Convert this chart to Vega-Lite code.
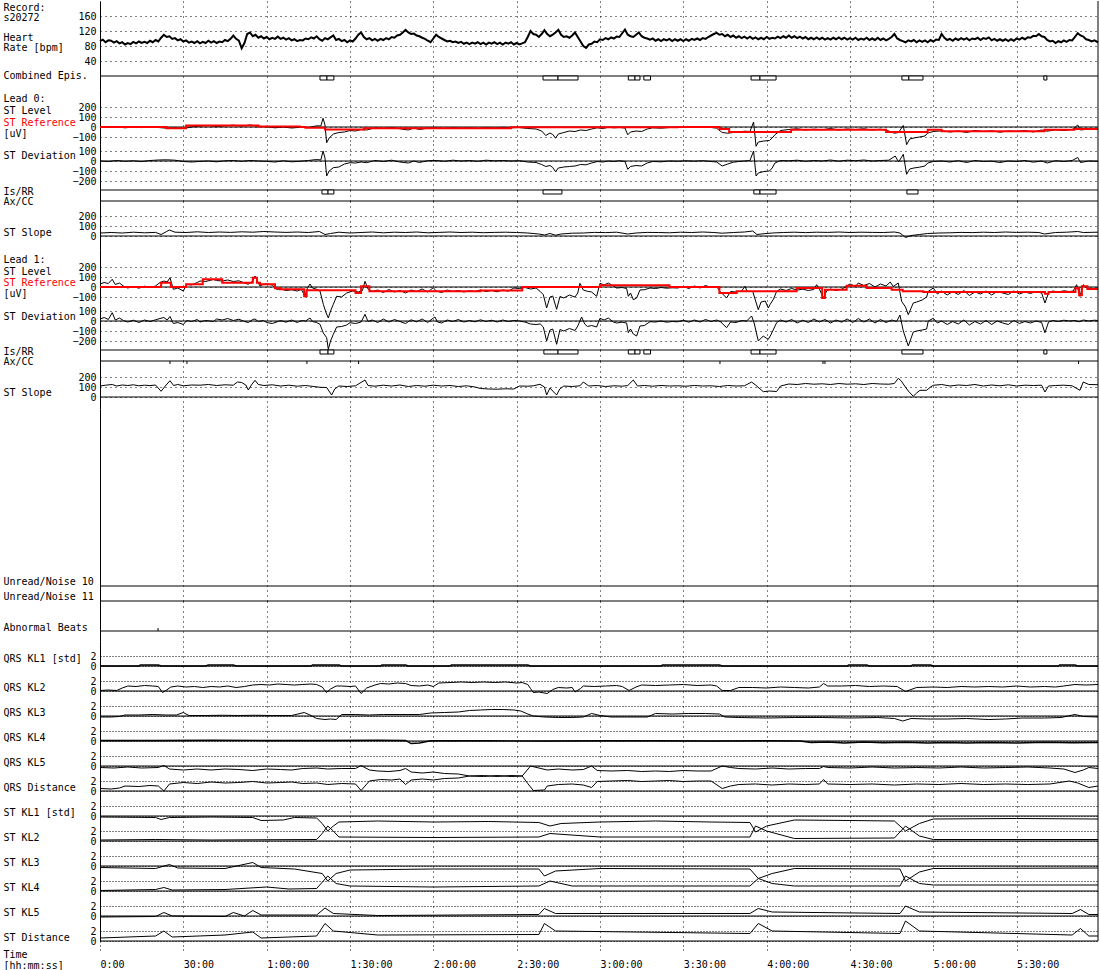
{
"$schema": "https://vega.github.io/schema/vega-lite/v6.json",
"padding": {"left": 3, "top": 0, "right": 0, "bottom": 0},
"background": "white",
"bounds": "flush",
"spacing": 0,
"config": {
  "font": "DejaVu Sans Mono",
  "view": {"stroke": null},
  "axis": {"labelFont": "DejaVu Sans Mono", "labelFontSize": 10, "labelColor": "black", "titleFont": "DejaVu Sans Mono", "titleFontSize": 10, "titleFontWeight": "normal", "titleColor": "black", "gridColor": "black", "gridOpacity": 1, "gridWidth": 1, "domainColor": "black", "tickColor": "black", "labelOverlap": false, "titleLimit": 300, "labelLimit": 200},
  "axisX": {"grid": true, "gridDash": [1, 4], "labels": false, "ticks": false, "domain": false},
  "axisY": {"ticks": false, "domain": true, "labelPadding": 4, "gridDash": [1, 4], "grid": false, "titleAngle": 0, "titleAlign": "left", "titleBaseline": "top", "titleX": -97, "titleLineHeight": 11, "labelBaseline": "middle"}
},
"datasets": {
"hr": [{"t":0,"v":93},{"t":1,"v":97},{"t":2,"v":90},{"t":3,"v":95},{"t":4,"v":94},{"t":5,"v":89},{"t":6,"v":93},{"t":7,"v":87},{"t":8,"v":90},{"t":9,"v":84},{"t":10,"v":88},{"t":11,"v":85},{"t":12,"v":91},{"t":13,"v":87},{"t":14,"v":92},{"t":15,"v":88},{"t":16,"v":91},{"t":17,"v":88},{"t":18,"v":94},{"t":19,"v":90},{"t":20,"v":96},{"t":21,"v":92},{"t":22,"v":102},{"t":23,"v":110},{"t":24,"v":104},{"t":25,"v":106},{"t":26,"v":99},{"t":27,"v":101},{"t":28,"v":95},{"t":29,"v":98},{"t":30,"v":92},{"t":31,"v":95},{"t":32,"v":89},{"t":33,"v":92},{"t":34,"v":88},{"t":35,"v":93},{"t":36,"v":87},{"t":37,"v":91},{"t":38,"v":88},{"t":39,"v":94},{"t":40,"v":89},{"t":41,"v":93},{"t":42,"v":88},{"t":43,"v":92},{"t":44,"v":90},{"t":45,"v":96},{"t":46,"v":93},{"t":47,"v":99},{"t":48,"v":108},{"t":49,"v":99},{"t":50,"v":94},{"t":51,"v":74},{"t":52,"v":88},{"t":53,"v":112},{"t":54,"v":116},{"t":55,"v":106},{"t":56,"v":110},{"t":57,"v":102},{"t":58,"v":106},{"t":59,"v":100},{"t":60,"v":104},{"t":61,"v":98},{"t":62,"v":102},{"t":63,"v":99},{"t":64,"v":105},{"t":65,"v":99},{"t":66,"v":102},{"t":67,"v":97},{"t":68,"v":101},{"t":69,"v":95},{"t":70,"v":98},{"t":71,"v":93},{"t":72,"v":96},{"t":73,"v":95},{"t":74,"v":100},{"t":75,"v":98},{"t":76,"v":103},{"t":77,"v":100},{"t":78,"v":106},{"t":79,"v":98},{"t":80,"v":94},{"t":81,"v":101},{"t":82,"v":98},{"t":83,"v":103},{"t":84,"v":108},{"t":85,"v":96},{"t":86,"v":99},{"t":87,"v":93},{"t":88,"v":96},{"t":89,"v":90},{"t":90,"v":95},{"t":91,"v":92},{"t":92,"v":100},{"t":93,"v":110},{"t":94,"v":116},{"t":95,"v":104},{"t":96,"v":98},{"t":97,"v":101},{"t":98,"v":95},{"t":99,"v":99},{"t":100,"v":94},{"t":101,"v":99},{"t":102,"v":96},{"t":103,"v":101},{"t":104,"v":98},{"t":105,"v":104},{"t":106,"v":102},{"t":107,"v":108},{"t":108,"v":110},{"t":109,"v":116},{"t":110,"v":123},{"t":111,"v":116},{"t":112,"v":112},{"t":113,"v":113},{"t":114,"v":108},{"t":115,"v":106},{"t":116,"v":102},{"t":117,"v":99},{"t":118,"v":94},{"t":119,"v":90},{"t":120,"v":100},{"t":121,"v":110},{"t":122,"v":104},{"t":123,"v":100},{"t":124,"v":96},{"t":125,"v":92},{"t":126,"v":94},{"t":127,"v":90},{"t":128,"v":92},{"t":129,"v":88},{"t":130,"v":91},{"t":131,"v":86},{"t":132,"v":89},{"t":133,"v":85},{"t":134,"v":89},{"t":135,"v":86},{"t":136,"v":90},{"t":137,"v":85},{"t":138,"v":89},{"t":139,"v":84},{"t":140,"v":89},{"t":141,"v":86},{"t":142,"v":90},{"t":143,"v":85},{"t":144,"v":89},{"t":145,"v":84},{"t":146,"v":89},{"t":147,"v":86},{"t":148,"v":90},{"t":149,"v":84},{"t":150,"v":88},{"t":151,"v":84},{"t":152,"v":87},{"t":153,"v":90},{"t":154,"v":104},{"t":155,"v":120},{"t":156,"v":112},{"t":157,"v":110},{"t":158,"v":104},{"t":159,"v":112},{"t":160,"v":122},{"t":161,"v":112},{"t":162,"v":106},{"t":163,"v":110},{"t":164,"v":116},{"t":165,"v":123},{"t":166,"v":110},{"t":167,"v":104},{"t":168,"v":106},{"t":169,"v":102},{"t":170,"v":108},{"t":171,"v":116},{"t":172,"v":104},{"t":173,"v":92},{"t":174,"v":80},{"t":175,"v":75},{"t":176,"v":84},{"t":177,"v":86},{"t":178,"v":92},{"t":179,"v":90},{"t":180,"v":98},{"t":181,"v":96},{"t":182,"v":101},{"t":183,"v":98},{"t":184,"v":103},{"t":185,"v":100},{"t":186,"v":105},{"t":187,"v":104},{"t":188,"v":114},{"t":189,"v":124},{"t":190,"v":110},{"t":191,"v":106},{"t":192,"v":104},{"t":193,"v":110},{"t":194,"v":116},{"t":195,"v":106},{"t":196,"v":102},{"t":197,"v":100},{"t":198,"v":97},{"t":199,"v":100},{"t":200,"v":94},{"t":201,"v":98},{"t":202,"v":93},{"t":203,"v":98},{"t":204,"v":95},{"t":205,"v":99},{"t":206,"v":93},{"t":207,"v":98},{"t":208,"v":94},{"t":209,"v":98},{"t":210,"v":93},{"t":211,"v":98},{"t":212,"v":94},{"t":213,"v":99},{"t":214,"v":96},{"t":215,"v":100},{"t":216,"v":96},{"t":217,"v":101},{"t":218,"v":99},{"t":219,"v":104},{"t":220,"v":108},{"t":221,"v":112},{"t":222,"v":115},{"t":223,"v":110},{"t":224,"v":112},{"t":225,"v":106},{"t":226,"v":110},{"t":227,"v":104},{"t":228,"v":108},{"t":229,"v":102},{"t":230,"v":106},{"t":231,"v":101},{"t":232,"v":105},{"t":233,"v":100},{"t":234,"v":105},{"t":235,"v":99},{"t":236,"v":103},{"t":237,"v":98},{"t":238,"v":102},{"t":239,"v":98},{"t":240,"v":104},{"t":241,"v":99},{"t":242,"v":102},{"t":243,"v":100},{"t":244,"v":105},{"t":245,"v":101},{"t":246,"v":106},{"t":247,"v":102},{"t":248,"v":108},{"t":249,"v":102},{"t":250,"v":106},{"t":251,"v":101},{"t":252,"v":105},{"t":253,"v":100},{"t":254,"v":104},{"t":255,"v":98},{"t":256,"v":102},{"t":257,"v":98},{"t":258,"v":103},{"t":259,"v":98},{"t":260,"v":102},{"t":261,"v":97},{"t":262,"v":101},{"t":263,"v":97},{"t":264,"v":102},{"t":265,"v":98},{"t":266,"v":103},{"t":267,"v":98},{"t":268,"v":102},{"t":269,"v":97},{"t":270,"v":101},{"t":271,"v":97},{"t":272,"v":102},{"t":273,"v":96},{"t":274,"v":100},{"t":275,"v":97},{"t":276,"v":102},{"t":277,"v":96},{"t":278,"v":100},{"t":279,"v":96},{"t":280,"v":102},{"t":281,"v":96},{"t":282,"v":100},{"t":283,"v":95},{"t":284,"v":99},{"t":285,"v":104},{"t":286,"v":112},{"t":287,"v":100},{"t":288,"v":96},{"t":289,"v":93},{"t":290,"v":90},{"t":291,"v":95},{"t":292,"v":92},{"t":293,"v":96},{"t":294,"v":90},{"t":295,"v":95},{"t":296,"v":91},{"t":297,"v":95},{"t":298,"v":90},{"t":299,"v":96},{"t":300,"v":92},{"t":301,"v":97},{"t":302,"v":96},{"t":303,"v":112},{"t":304,"v":102},{"t":305,"v":96},{"t":306,"v":99},{"t":307,"v":94},{"t":308,"v":100},{"t":309,"v":96},{"t":310,"v":101},{"t":311,"v":97},{"t":312,"v":101},{"t":313,"v":95},{"t":314,"v":100},{"t":315,"v":98},{"t":316,"v":102},{"t":317,"v":96},{"t":318,"v":101},{"t":319,"v":99},{"t":320,"v":103},{"t":321,"v":95},{"t":322,"v":99},{"t":323,"v":94},{"t":324,"v":98},{"t":325,"v":94},{"t":326,"v":98},{"t":327,"v":93},{"t":328,"v":98},{"t":329,"v":94},{"t":330,"v":100},{"t":331,"v":97},{"t":332,"v":102},{"t":333,"v":98},{"t":334,"v":103},{"t":335,"v":102},{"t":336,"v":107},{"t":337,"v":106},{"t":338,"v":112},{"t":339,"v":106},{"t":340,"v":104},{"t":341,"v":96},{"t":342,"v":92},{"t":343,"v":94},{"t":344,"v":88},{"t":345,"v":93},{"t":346,"v":90},{"t":347,"v":95},{"t":348,"v":91},{"t":349,"v":96},{"t":350,"v":95},{"t":351,"v":104},{"t":352,"v":114},{"t":353,"v":108},{"t":354,"v":105},{"t":355,"v":98},{"t":356,"v":96},{"t":357,"v":92},{"t":358,"v":95},{"t":359.3,"v":90}],
"l0": [{"t":0,"v":5},{"t":3,"v":-5},{"t":6,"v":2},{"t":9,"v":-8},{"t":12,"v":0},{"t":15,"v":-6},{"t":18,"v":3},{"t":21,"v":-5},{"t":24,"v":-12},{"t":27,"v":-8},{"t":30,"v":-14},{"t":33,"v":2},{"t":36,"v":8},{"t":39,"v":15},{"t":42,"v":5},{"t":45,"v":12},{"t":48,"v":18},{"t":51,"v":10},{"t":54,"v":20},{"t":57,"v":8},{"t":60,"v":2},{"t":63,"v":-8},{"t":66,"v":0},{"t":69,"v":-10},{"t":72,"v":-3},{"t":75,"v":-6},{"t":78,"v":12},{"t":79.5,"v":10},{"t":80.3,"v":87},{"t":81,"v":20},{"t":81.6,"v":-157},{"t":82.5,"v":-110},{"t":84,"v":-70},{"t":86,"v":-55},{"t":88,"v":-50},{"t":90,"v":-35},{"t":92,"v":-40},{"t":94,"v":-25},{"t":96,"v":-30},{"t":99,"v":-8},{"t":102,"v":-15},{"t":105,"v":-5},{"t":108,"v":-18},{"t":111,"v":-30},{"t":113,"v":-10},{"t":115,"v":-25},{"t":118,"v":-12},{"t":121,"v":-8},{"t":124,"v":-15},{"t":127,"v":-5},{"t":130,"v":-12},{"t":133,"v":-8},{"t":136,"v":-15},{"t":139,"v":-5},{"t":142,"v":-10},{"t":145,"v":-3},{"t":148,"v":-8},{"t":151,"v":-5},{"t":154,"v":-15},{"t":157,"v":-20},{"t":159,"v":-40},{"t":160.5,"v":-85},{"t":162,"v":-60},{"t":163,"v":-75},{"t":164,"v":-112},{"t":165,"v":-70},{"t":167,"v":-55},{"t":169,"v":-40},{"t":171,"v":-45},{"t":173,"v":-30},{"t":175,"v":-35},{"t":177,"v":-20},{"t":179,"v":-8},{"t":181,"v":-15},{"t":183,"v":-3},{"t":185,"v":-8},{"t":187,"v":-5},{"t":189,"v":-10},{"t":190,"v":-78},{"t":191,"v":-50},{"t":193,"v":-40},{"t":195,"v":-45},{"t":197,"v":-20},{"t":199,"v":-8},{"t":202,"v":-12},{"t":205,"v":-5},{"t":208,"v":-3},{"t":211,"v":2},{"t":214,"v":-2},{"t":217,"v":3},{"t":220,"v":-5},{"t":222,"v":-12},{"t":224,"v":-55},{"t":226,"v":-62},{"t":228,"v":-55},{"t":230,"v":-50},{"t":232,"v":-42},{"t":234,"v":-45},{"t":235.3,"v":50},{"t":236.2,"v":-193},{"t":237,"v":-150},{"t":239,"v":-140},{"t":241,"v":-135},{"t":242,"v":-110},{"t":243,"v":-77},{"t":245,"v":-35},{"t":248,"v":-25},{"t":251,"v":-18},{"t":254,"v":-30},{"t":257,"v":-22},{"t":260,"v":-28},{"t":263,"v":-15},{"t":266,"v":-30},{"t":269,"v":-20},{"t":272,"v":-25},{"t":275,"v":-18},{"t":278,"v":-30},{"t":281,"v":-22},{"t":284,"v":-40},{"t":286,"v":-62},{"t":287.5,"v":-55},{"t":289.2,"v":15},{"t":290.4,"v":-177},{"t":291.5,"v":-120},{"t":293,"v":-110},{"t":295,"v":-100},{"t":297,"v":-90},{"t":298,"v":-60},{"t":300,"v":-45},{"t":303,"v":-38},{"t":306,"v":-50},{"t":309,"v":-40},{"t":312,"v":-55},{"t":315,"v":-35},{"t":318,"v":-45},{"t":321,"v":-38},{"t":324,"v":-52},{"t":327,"v":-40},{"t":330,"v":-45},{"t":333,"v":-35},{"t":336,"v":-50},{"t":339,"v":-30},{"t":341,"v":-42},{"t":344,"v":-28},{"t":347,"v":-35},{"t":350,"v":-25},{"t":352,"v":20},{"t":353,"v":-30},{"t":356,"v":-20},{"t":359.3,"v":-22}],
"r0": [{"t":0,"v":0},{"t":24,"v":-12},{"t":31,"v":15},{"t":57,"v":5},{"t":72,"v":0},{"t":74,"v":-7},{"t":81,"v":-25},{"t":95,"v":-12},{"t":148,"v":-3},{"t":208,"v":0},{"t":223,"v":-20},{"t":226.5,"v":-50},{"t":248.8,"v":-27},{"t":283,"v":-50},{"t":298,"v":-27},{"t":303,"v":-43},{"t":340,"v":-27},{"t":350.8,"v":-20},{"t":359.3,"v":-20}],
"d0": [{"t":0,"v":0},{"t":3,"v":-5},{"t":6,"v":5},{"t":9,"v":-3},{"t":12,"v":2},{"t":15,"v":-6},{"t":18,"v":5},{"t":21,"v":10},{"t":24,"v":12},{"t":27,"v":8},{"t":30,"v":-5},{"t":33,"v":-10},{"t":36,"v":-4},{"t":39,"v":0},{"t":42,"v":-8},{"t":45,"v":2},{"t":48,"v":5},{"t":51,"v":-3},{"t":54,"v":5},{"t":57,"v":0},{"t":60,"v":-4},{"t":63,"v":-10},{"t":66,"v":2},{"t":69,"v":-8},{"t":72,"v":-3},{"t":75,"v":5},{"t":78,"v":15},{"t":79.5,"v":10},{"t":80.3,"v":100},{"t":81,"v":30},{"t":81.6,"v":-150},{"t":82.5,"v":-100},{"t":84,"v":-67},{"t":86,"v":-60},{"t":88,"v":-30},{"t":90,"v":-17},{"t":92,"v":-20},{"t":94,"v":-10},{"t":96,"v":-17},{"t":99,"v":5},{"t":102,"v":-5},{"t":105,"v":8},{"t":108,"v":-10},{"t":111,"v":-20},{"t":113,"v":0},{"t":115,"v":-15},{"t":118,"v":3},{"t":121,"v":5},{"t":124,"v":-3},{"t":127,"v":8},{"t":130,"v":0},{"t":133,"v":5},{"t":136,"v":-3},{"t":139,"v":8},{"t":142,"v":2},{"t":145,"v":5},{"t":148,"v":0},{"t":151,"v":3},{"t":154,"v":-10},{"t":157,"v":-15},{"t":159,"v":-35},{"t":160.5,"v":-55},{"t":162,"v":-45},{"t":163,"v":-65},{"t":164,"v":-107},{"t":165,"v":-70},{"t":167,"v":-60},{"t":169,"v":-55},{"t":171,"v":-50},{"t":173,"v":-35},{"t":175,"v":-38},{"t":177,"v":-20},{"t":179,"v":-5},{"t":181,"v":-10},{"t":183,"v":0},{"t":185,"v":-5},{"t":187,"v":3},{"t":189,"v":-5},{"t":190,"v":-83},{"t":191,"v":-55},{"t":193,"v":-45},{"t":195,"v":-50},{"t":197,"v":-20},{"t":199,"v":-5},{"t":202,"v":-8},{"t":205,"v":0},{"t":208,"v":-3},{"t":211,"v":2},{"t":214,"v":-2},{"t":217,"v":3},{"t":220,"v":-5},{"t":222,"v":-10},{"t":224,"v":-50},{"t":226,"v":-30},{"t":228,"v":-12},{"t":230,"v":-5},{"t":232,"v":0},{"t":234,"v":5},{"t":235.3,"v":100},{"t":236.2,"v":-150},{"t":237,"v":-120},{"t":239,"v":-105},{"t":241,"v":-100},{"t":242,"v":-70},{"t":243,"v":-20},{"t":245,"v":5},{"t":248,"v":2},{"t":251,"v":8},{"t":254,"v":-3},{"t":257,"v":5},{"t":260,"v":0},{"t":263,"v":10},{"t":266,"v":-2},{"t":269,"v":8},{"t":272,"v":3},{"t":275,"v":10},{"t":278,"v":0},{"t":281,"v":5},{"t":284,"v":8},{"t":286.3,"v":50},{"t":287.5,"v":-10},{"t":289.2,"v":67},{"t":290.4,"v":-133},{"t":291.5,"v":-80},{"t":293,"v":-70},{"t":295,"v":-62},{"t":297,"v":-50},{"t":298,"v":-20},{"t":300,"v":-5},{"t":303,"v":0},{"t":306,"v":-10},{"t":309,"v":3},{"t":312,"v":-15},{"t":315,"v":5},{"t":318,"v":-5},{"t":321,"v":-2},{"t":324,"v":-15},{"t":327,"v":0},{"t":330,"v":-5},{"t":333,"v":5},{"t":336,"v":-12},{"t":339,"v":0},{"t":341,"v":-20},{"t":344,"v":3},{"t":347,"v":-5},{"t":350,"v":5},{"t":352,"v":35},{"t":353,"v":-15},{"t":356,"v":0},{"t":359.3,"v":-3}],
"s0": [{"t":0,"v":30},{"t":4,"v":35},{"t":8,"v":30},{"t":12,"v":38},{"t":16,"v":32},{"t":20,"v":36},{"t":22,"v":15},{"t":24,"v":45},{"t":25,"v":60},{"t":27,"v":38},{"t":31,"v":35},{"t":35,"v":42},{"t":39,"v":35},{"t":43,"v":40},{"t":47,"v":36},{"t":51,"v":42},{"t":55,"v":38},{"t":59,"v":45},{"t":63,"v":40},{"t":67,"v":36},{"t":71,"v":40},{"t":75,"v":35},{"t":79,"v":45},{"t":81,"v":15},{"t":83,"v":25},{"t":86,"v":38},{"t":90,"v":30},{"t":94,"v":35},{"t":98,"v":40},{"t":102,"v":32},{"t":106,"v":38},{"t":110,"v":35},{"t":114,"v":40},{"t":118,"v":32},{"t":122,"v":36},{"t":126,"v":40},{"t":130,"v":35},{"t":134,"v":38},{"t":138,"v":33},{"t":142,"v":36},{"t":146,"v":38},{"t":150,"v":35},{"t":154,"v":30},{"t":158,"v":20},{"t":160,"v":10},{"t":162,"v":25},{"t":164,"v":8},{"t":166,"v":20},{"t":170,"v":28},{"t":174,"v":30},{"t":178,"v":36},{"t":182,"v":34},{"t":186,"v":38},{"t":190,"v":20},{"t":193,"v":30},{"t":197,"v":36},{"t":201,"v":35},{"t":205,"v":32},{"t":209,"v":38},{"t":213,"v":35},{"t":217,"v":40},{"t":221,"v":35},{"t":224,"v":28},{"t":228,"v":35},{"t":232,"v":40},{"t":235,"v":50},{"t":236.5,"v":15},{"t":238,"v":20},{"t":242,"v":30},{"t":246,"v":35},{"t":250,"v":38},{"t":254,"v":34},{"t":258,"v":38},{"t":262,"v":36},{"t":266,"v":40},{"t":270,"v":35},{"t":274,"v":38},{"t":278,"v":36},{"t":282,"v":35},{"t":286,"v":40},{"t":288,"v":30},{"t":290,"v":-15},{"t":292,"v":5},{"t":295,"v":15},{"t":298,"v":25},{"t":302,"v":30},{"t":306,"v":32},{"t":310,"v":36},{"t":314,"v":34},{"t":318,"v":38},{"t":322,"v":35},{"t":326,"v":40},{"t":330,"v":36},{"t":334,"v":38},{"t":338,"v":35},{"t":340,"v":20},{"t":344,"v":35},{"t":348,"v":38},{"t":352,"v":45},{"t":354,"v":35},{"t":359.3,"v":38}],
"l1": [{"t":0,"v":30},{"t":1.5,"v":45},{"t":3,"v":35},{"t":4.4,"v":77},{"t":5.5,"v":25},{"t":7,"v":40},{"t":8.4,"v":10},{"t":10,"v":-10},{"t":12,"v":5},{"t":14,"v":-12},{"t":16,"v":8},{"t":18,"v":-5},{"t":20,"v":10},{"t":21.6,"v":45},{"t":23,"v":60},{"t":24.2,"v":50},{"t":25.2,"v":93},{"t":26.4,"v":-23},{"t":28,"v":-10},{"t":30,"v":-40},{"t":31.2,"v":27},{"t":33,"v":20},{"t":35,"v":45},{"t":36,"v":60},{"t":38,"v":55},{"t":40.8,"v":75},{"t":42,"v":65},{"t":44,"v":60},{"t":46,"v":70},{"t":48,"v":55},{"t":50,"v":62},{"t":52,"v":40},{"t":53.4,"v":27},{"t":55,"v":60},{"t":55.8,"v":110},{"t":57,"v":40},{"t":57.6,"v":10},{"t":58.8,"v":27},{"t":60,"v":30},{"t":62,"v":20},{"t":63.6,"v":-23},{"t":65,"v":-20},{"t":67,"v":-35},{"t":69,"v":-28},{"t":71,"v":-40},{"t":72.5,"v":-25},{"t":73.8,"v":-93},{"t":74.5,"v":-20},{"t":75.6,"v":30},{"t":76.5,"v":-10},{"t":78,"v":-23},{"t":79.2,"v":-40},{"t":80.4,"v":-173},{"t":81.3,"v":-250},{"t":82.2,"v":-310},{"t":83,"v":-240},{"t":84,"v":-173},{"t":85.2,"v":-93},{"t":87,"v":-100},{"t":88.8,"v":-60},{"t":91,"v":-40},{"t":93,"v":-50},{"t":94.5,"v":-35},{"t":95.4,"v":57},{"t":96.5,"v":-20},{"t":98,"v":-45},{"t":100,"v":-30},{"t":102,"v":-55},{"t":104,"v":-25},{"t":106,"v":-50},{"t":108,"v":-35},{"t":110,"v":-60},{"t":112,"v":-30},{"t":114,"v":-45},{"t":116,"v":-20},{"t":118,"v":-50},{"t":120,"v":-7},{"t":121,"v":-40},{"t":123,"v":-55},{"t":125,"v":-30},{"t":127,"v":-45},{"t":129,"v":-35},{"t":131,"v":-50},{"t":133,"v":-38},{"t":135,"v":-45},{"t":137,"v":-30},{"t":139,"v":-45},{"t":141,"v":-35},{"t":143,"v":-48},{"t":145,"v":-30},{"t":147,"v":-42},{"t":149,"v":-10},{"t":151,"v":-15},{"t":153,"v":-5},{"t":155,"v":-20},{"t":157,"v":-10},{"t":158.5,"v":-45},{"t":159.6,"v":-77},{"t":160.8,"v":-210},{"t":162,"v":-100},{"t":163,"v":-90},{"t":164.4,"v":-223},{"t":165.6,"v":-95},{"t":167,"v":-110},{"t":169,"v":-80},{"t":171,"v":-100},{"t":172,"v":-60},{"t":172.8,"v":37},{"t":174,"v":-30},{"t":175.5,"v":-43},{"t":177,"v":-50},{"t":178.8,"v":-93},{"t":180,"v":37},{"t":181.5,"v":20},{"t":183,"v":40},{"t":184.8,"v":10},{"t":186,"v":-10},{"t":188,"v":-5},{"t":189.6,"v":-15},{"t":190.2,"v":-93},{"t":191,"v":-60},{"t":192,"v":-127},{"t":193.2,"v":-110},{"t":194.4,"v":-30},{"t":196,"v":-27},{"t":198,"v":-10},{"t":200,"v":-15},{"t":202,"v":-5},{"t":204,"v":-12},{"t":206,"v":-8},{"t":208,"v":-10},{"t":210,"v":5},{"t":212,"v":-15},{"t":214,"v":10},{"t":216,"v":-10},{"t":218,"v":15},{"t":220,"v":-5},{"t":222,"v":5},{"t":223.2,"v":-43},{"t":225.6,"v":-110},{"t":227,"v":-45},{"t":229,"v":-50},{"t":231,"v":-40},{"t":232.2,"v":7},{"t":233,"v":-43},{"t":235,"v":-45},{"t":237,"v":-227},{"t":238,"v":-150},{"t":239.5,"v":-140},{"t":240.6,"v":-210},{"t":241.2,"v":-177},{"t":242.5,"v":-120},{"t":243.6,"v":-43},{"t":245,"v":-20},{"t":247,"v":-35},{"t":249,"v":-15},{"t":251,"v":-30},{"t":253,"v":-22},{"t":255,"v":-35},{"t":257,"v":-25},{"t":258,"v":23},{"t":259,"v":-20},{"t":260.4,"v":-110},{"t":261.6,"v":-40},{"t":263,"v":-20},{"t":265,"v":-35},{"t":267,"v":-22},{"t":268.8,"v":10},{"t":270,"v":30},{"t":272,"v":5},{"t":273,"v":40},{"t":275,"v":15},{"t":277,"v":35},{"t":279,"v":0},{"t":281,"v":30},{"t":283,"v":10},{"t":284.5,"v":50},{"t":285.6,"v":5},{"t":287.4,"v":40},{"t":288.6,"v":-143},{"t":290,"v":-200},{"t":291,"v":-277},{"t":292.8,"v":-160},{"t":294,"v":-150},{"t":296,"v":-130},{"t":297.6,"v":-100},{"t":298.2,"v":-43},{"t":300,"v":-10},{"t":301.5,"v":-70},{"t":303,"v":-40},{"t":305,"v":-80},{"t":307,"v":-45},{"t":309,"v":-75},{"t":311,"v":-35},{"t":313,"v":-85},{"t":315,"v":-50},{"t":317,"v":-70},{"t":319,"v":-40},{"t":321,"v":-80},{"t":323,"v":-45},{"t":325,"v":-60},{"t":327,"v":-75},{"t":329,"v":-40},{"t":331,"v":-70},{"t":333,"v":-50},{"t":335,"v":-65},{"t":337,"v":-45},{"t":339,"v":-60},{"t":340.2,"v":-160},{"t":341.5,"v":-60},{"t":343,"v":-40},{"t":345,"v":-50},{"t":347,"v":-38},{"t":349,"v":-45},{"t":350.4,"v":-40},{"t":351.6,"v":23},{"t":352.8,"v":-93},{"t":354,"v":23},{"t":355.2,"v":-10},{"t":357,"v":-15},{"t":359.3,"v":-12}],
"r1": [{"t":0,"v":0},{"t":22,"v":43},{"t":25.5,"v":0},{"t":31,"v":27},{"t":37,"v":77},{"t":44,"v":43},{"t":55,"v":93},{"t":56.5,"v":43},{"t":57.6,"v":27},{"t":63,"v":-13},{"t":64.8,"v":-23},{"t":73.5,"v":-93},{"t":74.4,"v":-33},{"t":92,"v":-60},{"t":94,"v":7},{"t":97,"v":-43},{"t":137,"v":-35},{"t":152,"v":0},{"t":180,"v":17},{"t":205,"v":0},{"t":223,"v":-60},{"t":229.2,"v":-43},{"t":250.8,"v":-10},{"t":260,"v":-110},{"t":261,"v":-27},{"t":268.8,"v":13},{"t":276,"v":-10},{"t":285,"v":-27},{"t":289,"v":-43},{"t":296.4,"v":-50},{"t":340.2,"v":-67},{"t":341.5,"v":-50},{"t":351.2,"v":-10},{"t":352.5,"v":-83},{"t":353.5,"v":7},{"t":355.5,"v":-20},{"t":359.3,"v":-20}],
"d1": [{"t":0,"v":20},{"t":1.5,"v":35},{"t":3,"v":15},{"t":4.4,"v":83},{"t":5.5,"v":10},{"t":7,"v":30},{"t":8.4,"v":5},{"t":10,"v":-10},{"t":12,"v":8},{"t":14,"v":-15},{"t":16,"v":10},{"t":18,"v":-5},{"t":20,"v":12},{"t":21.6,"v":25},{"t":23,"v":35},{"t":24.2,"v":10},{"t":25.2,"v":45},{"t":26.4,"v":-25},{"t":28,"v":-15},{"t":30,"v":-35},{"t":31.2,"v":5},{"t":33,"v":-5},{"t":35,"v":15},{"t":36,"v":-10},{"t":38,"v":5},{"t":40.8,"v":-5},{"t":42,"v":20},{"t":44,"v":10},{"t":46,"v":25},{"t":48,"v":5},{"t":50,"v":18},{"t":52,"v":-5},{"t":53.4,"v":-15},{"t":55,"v":15},{"t":55.8,"v":20},{"t":57,"v":-5},{"t":58.8,"v":5},{"t":60,"v":-15},{"t":62,"v":-25},{"t":63.6,"v":-10},{"t":65,"v":5},{"t":67,"v":-12},{"t":69,"v":10},{"t":71,"v":-15},{"t":72.5,"v":5},{"t":74,"v":0},{"t":75.6,"v":30},{"t":76.5,"v":-5},{"t":78,"v":-15},{"t":79.2,"v":-33},{"t":80.4,"v":-120},{"t":81.6,"v":-167},{"t":82.2,"v":-283},{"t":83,"v":-200},{"t":84,"v":-133},{"t":85.2,"v":-60},{"t":87,"v":-55},{"t":88.8,"v":-40},{"t":90,"v":-17},{"t":92,"v":-25},{"t":94,"v":-10},{"t":95.4,"v":67},{"t":96.5,"v":-5},{"t":98,"v":10},{"t":100,"v":-15},{"t":102,"v":20},{"t":104,"v":-10},{"t":106,"v":15},{"t":108,"v":-5},{"t":110,"v":-25},{"t":112,"v":12},{"t":114,"v":-8},{"t":116,"v":20},{"t":118,"v":-15},{"t":120,"v":30},{"t":120.6,"v":40},{"t":121.5,"v":-10},{"t":123,"v":-20},{"t":125,"v":10},{"t":127,"v":-5},{"t":129,"v":15},{"t":131,"v":-10},{"t":133,"v":5},{"t":135,"v":-8},{"t":137,"v":12},{"t":139,"v":-5},{"t":141,"v":8},{"t":143,"v":-10},{"t":145,"v":10},{"t":147,"v":-5},{"t":149,"v":5},{"t":151,"v":0},{"t":153,"v":-10},{"t":155,"v":-30},{"t":157,"v":-35},{"t":158.5,"v":-30},{"t":159.6,"v":-60},{"t":160.8,"v":-200},{"t":162,"v":-90},{"t":163,"v":-80},{"t":164.4,"v":-233},{"t":165.6,"v":-85},{"t":167,"v":-100},{"t":169,"v":-75},{"t":171,"v":-95},{"t":172,"v":-50},{"t":173.4,"v":40},{"t":174.5,"v":-30},{"t":175.5,"v":-55},{"t":177,"v":-45},{"t":178.8,"v":-60},{"t":180,"v":27},{"t":181.5,"v":10},{"t":183,"v":30},{"t":184.8,"v":-10},{"t":186,"v":-20},{"t":188,"v":-12},{"t":189.6,"v":-20},{"t":190.2,"v":-117},{"t":191,"v":-80},{"t":192,"v":-130},{"t":193.2,"v":-150},{"t":194.4,"v":-50},{"t":196,"v":-45},{"t":198,"v":-7},{"t":200,"v":-10},{"t":202,"v":0},{"t":204,"v":-12},{"t":206,"v":-5},{"t":208,"v":-8},{"t":210,"v":8},{"t":212,"v":-12},{"t":214,"v":10},{"t":216,"v":-10},{"t":218,"v":15},{"t":220,"v":-5},{"t":222,"v":10},{"t":223.5,"v":-10},{"t":225.6,"v":-67},{"t":227,"v":-10},{"t":229,"v":-15},{"t":231,"v":5},{"t":232.8,"v":0},{"t":234.6,"v":50},{"t":235.5,"v":-20},{"t":237,"v":-200},{"t":238.8,"v":-150},{"t":239.8,"v":-170},{"t":240.6,"v":-183},{"t":241.5,"v":-140},{"t":243.6,"v":-17},{"t":245,"v":10},{"t":247,"v":-10},{"t":249,"v":15},{"t":251,"v":-20},{"t":253,"v":8},{"t":255,"v":-15},{"t":257,"v":20},{"t":259,"v":-10},{"t":261,"v":15},{"t":263,"v":-20},{"t":265,"v":10},{"t":267,"v":-12},{"t":269,"v":20},{"t":271,"v":-15},{"t":273,"v":25},{"t":275,"v":-10},{"t":277,"v":20},{"t":279,"v":-20},{"t":281,"v":15},{"t":283,"v":-15},{"t":285,"v":10},{"t":286.8,"v":-5},{"t":288,"v":60},{"t":289.2,"v":-100},{"t":291,"v":-250},{"t":292.8,"v":-110},{"t":294,"v":-100},{"t":296,"v":-90},{"t":297.6,"v":-80},{"t":298.2,"v":0},{"t":300,"v":27},{"t":301.5,"v":-20},{"t":303,"v":0},{"t":305,"v":-35},{"t":307,"v":-5},{"t":309,"v":-30},{"t":311,"v":10},{"t":313,"v":-40},{"t":315,"v":-5},{"t":317,"v":-30},{"t":319,"v":5},{"t":321,"v":-35},{"t":323,"v":0},{"t":325,"v":-20},{"t":327,"v":-35},{"t":329,"v":5},{"t":331,"v":-25},{"t":333,"v":-5},{"t":335,"v":-20},{"t":337,"v":0},{"t":339,"v":-15},{"t":340.2,"v":-117},{"t":341.5,"v":-10},{"t":343,"v":5},{"t":345,"v":-5},{"t":347,"v":8},{"t":349,"v":0},{"t":351,"v":5},{"t":352.5,"v":-8},{"t":354,"v":10},{"t":356,"v":0},{"t":358,"v":8},{"t":359.3,"v":5}],
"s1": [{"t":0,"v":110},{"t":2,"v":118},{"t":4.4,"v":125},{"t":6,"v":110},{"t":8,"v":120},{"t":10,"v":115},{"t":12,"v":122},{"t":14,"v":112},{"t":16,"v":118},{"t":18,"v":114},{"t":20,"v":120},{"t":22,"v":57},{"t":23.5,"v":110},{"t":25.2,"v":163},{"t":26.5,"v":115},{"t":28,"v":125},{"t":30,"v":112},{"t":33,"v":120},{"t":36,"v":118},{"t":39,"v":125},{"t":42,"v":115},{"t":45,"v":122},{"t":48,"v":118},{"t":49.5,"v":150},{"t":51,"v":145},{"t":52.5,"v":120},{"t":53.4,"v":70},{"t":54.5,"v":120},{"t":55.8,"v":167},{"t":57,"v":125},{"t":59,"v":115},{"t":62,"v":122},{"t":65,"v":110},{"t":68,"v":118},{"t":71,"v":108},{"t":74,"v":115},{"t":77,"v":105},{"t":79.2,"v":97},{"t":81.6,"v":95},{"t":83.4,"v":20},{"t":84.5,"v":80},{"t":86,"v":110},{"t":89,"v":105},{"t":92,"v":112},{"t":95.4,"v":170},{"t":96.5,"v":115},{"t":99,"v":108},{"t":102,"v":118},{"t":105,"v":110},{"t":108,"v":120},{"t":111,"v":105},{"t":114,"v":115},{"t":117,"v":108},{"t":120,"v":118},{"t":123,"v":110},{"t":126,"v":115},{"t":129,"v":105},{"t":132,"v":112},{"t":135,"v":100},{"t":137,"v":85},{"t":140,"v":80},{"t":143,"v":78},{"t":146,"v":82},{"t":149,"v":80},{"t":151,"v":110},{"t":154,"v":108},{"t":156,"v":112},{"t":158.4,"v":127},{"t":160,"v":100},{"t":160.8,"v":20},{"t":162,"v":90},{"t":163,"v":60},{"t":164.4,"v":20},{"t":165.5,"v":80},{"t":167,"v":110},{"t":170,"v":105},{"t":172.8,"v":112},{"t":174,"v":150},{"t":176,"v":110},{"t":179,"v":115},{"t":182,"v":105},{"t":185,"v":112},{"t":188,"v":108},{"t":190,"v":115},{"t":192,"v":170},{"t":193.5,"v":110},{"t":196,"v":115},{"t":199,"v":108},{"t":202,"v":115},{"t":205,"v":110},{"t":208,"v":112},{"t":211,"v":108},{"t":214,"v":115},{"t":217,"v":110},{"t":220,"v":112},{"t":223,"v":105},{"t":226,"v":115},{"t":229,"v":110},{"t":232,"v":112},{"t":234.6,"v":150},{"t":236,"v":120},{"t":238.8,"v":53},{"t":241,"v":60},{"t":243.6,"v":55},{"t":245,"v":110},{"t":248,"v":130},{"t":251,"v":125},{"t":254,"v":135},{"t":257,"v":128},{"t":260,"v":132},{"t":263,"v":125},{"t":266,"v":135},{"t":269,"v":128},{"t":272,"v":132},{"t":275,"v":125},{"t":278,"v":135},{"t":281,"v":130},{"t":284,"v":128},{"t":286,"v":135},{"t":287.4,"v":187},{"t":288.5,"v":160},{"t":289.2,"v":130},{"t":291,"v":60},{"t":292.8,"v":7},{"t":294,"v":40},{"t":295.2,"v":67},{"t":297.6,"v":67},{"t":299,"v":100},{"t":300,"v":117},{"t":303,"v":125},{"t":306,"v":110},{"t":309,"v":120},{"t":312,"v":115},{"t":315,"v":125},{"t":318,"v":110},{"t":321,"v":120},{"t":324,"v":112},{"t":327,"v":122},{"t":330,"v":110},{"t":333,"v":118},{"t":336,"v":115},{"t":339,"v":118},{"t":340.2,"v":50},{"t":341.5,"v":110},{"t":344,"v":115},{"t":347,"v":118},{"t":350,"v":112},{"t":352.8,"v":67},{"t":354,"v":150},{"t":356,"v":125},{"t":359.3,"v":123}],
"q1": [{"t":0,"v":0},{"t":14,"v":0},{"t":14.5,"v":0.2},{"t":21,"v":0.2},{"t":22,"v":0},{"t":38,"v":0},{"t":39,"v":0.2},{"t":48,"v":0.2},{"t":49,"v":0},{"t":76,"v":0},{"t":76.5,"v":0.2},{"t":86,"v":0.2},{"t":87,"v":0},{"t":101,"v":0},{"t":101.5,"v":0.2},{"t":110,"v":0.2},{"t":111,"v":0},{"t":126,"v":0},{"t":126.5,"v":0.2},{"t":154,"v":0.2},{"t":155,"v":0},{"t":202,"v":0},{"t":202.5,"v":0.2},{"t":223,"v":0.2},{"t":224,"v":0},{"t":269,"v":0},{"t":269.5,"v":0.2},{"t":276,"v":0.2},{"t":277,"v":0},{"t":292,"v":0},{"t":292.5,"v":0.2},{"t":299,"v":0.2},{"t":300,"v":0},{"t":345,"v":0},{"t":345.5,"v":0.2},{"t":351,"v":0.2},{"t":352,"v":0},{"t":359.3,"v":0}],
"q2": [{"t":0,"v":0.1},{"t":3,"v":0.2},{"t":6,"v":0.1},{"t":8,"v":0.6},{"t":10,"v":1.0},{"t":13,"v":0.9},{"t":16,"v":1.1},{"t":19,"v":1.0},{"t":21,"v":0.9},{"t":22.5,"v":-0.3},{"t":24,"v":0.2},{"t":25.5,"v":0.8},{"t":28,"v":1.0},{"t":31,"v":0.8},{"t":34,"v":0.9},{"t":37,"v":0.7},{"t":40,"v":0.9},{"t":43,"v":0.8},{"t":46,"v":1.0},{"t":49,"v":0.7},{"t":52,"v":0.9},{"t":55,"v":1.2},{"t":58,"v":1.3},{"t":61,"v":1.2},{"t":64,"v":1.4},{"t":67,"v":1.3},{"t":70,"v":1.2},{"t":73,"v":1.3},{"t":76,"v":1.4},{"t":78,"v":1.3},{"t":80,"v":0.8},{"t":81.5,"v":-0.3},{"t":83,"v":0.4},{"t":85,"v":1.0},{"t":87,"v":1.0},{"t":90,"v":0.9},{"t":92,"v":1.0},{"t":94,"v":-0.5},{"t":96,"v":0.6},{"t":99,"v":1.2},{"t":101,"v":1.5},{"t":104,"v":1.4},{"t":107,"v":1.6},{"t":110,"v":1.5},{"t":112,"v":1.1},{"t":115,"v":1.0},{"t":118,"v":1.2},{"t":120,"v":0.9},{"t":122,"v":1.6},{"t":126,"v":1.7},{"t":130,"v":1.8},{"t":134,"v":1.7},{"t":138,"v":1.8},{"t":142,"v":1.7},{"t":146,"v":1.8},{"t":150,"v":1.6},{"t":152,"v":1.7},{"t":154,"v":1.3},{"t":155,"v":0.5},{"t":156,"v":-0.3},{"t":158,"v":-0.2},{"t":161,"v":-0.5},{"t":163,"v":0.3},{"t":165,"v":0.7},{"t":168,"v":0.6},{"t":170,"v":0.7},{"t":171,"v":-0.2},{"t":173,"v":0.5},{"t":174,"v":1.0},{"t":178,"v":0.9},{"t":182,"v":1.0},{"t":186,"v":1.1},{"t":188,"v":0.9},{"t":190.5,"v":0.1},{"t":193,"v":0.8},{"t":195,"v":1.2},{"t":200,"v":1.1},{"t":205,"v":1.2},{"t":210,"v":1.3},{"t":215,"v":1.1},{"t":220,"v":1.2},{"t":222,"v":1.0},{"t":224,"v":0.1},{"t":227,"v":0.1},{"t":229,"v":0.5},{"t":230,"v":0.7},{"t":235,"v":0.7},{"t":240,"v":0.6},{"t":245,"v":0.8},{"t":250,"v":0.7},{"t":255,"v":0.6},{"t":259,"v":0.8},{"t":260.5,"v":1.5},{"t":262,"v":1.0},{"t":267,"v":1.0},{"t":272,"v":1.1},{"t":277,"v":0.9},{"t":282,"v":1.0},{"t":287,"v":0.9},{"t":290,"v":-0.1},{"t":292,"v":0.3},{"t":294,"v":0.7},{"t":300,"v":0.8},{"t":305,"v":0.7},{"t":310,"v":0.9},{"t":315,"v":0.8},{"t":320,"v":0.9},{"t":325,"v":0.8},{"t":330,"v":1.0},{"t":335,"v":0.8},{"t":340,"v":0.9},{"t":344,"v":0.8},{"t":347,"v":1.0},{"t":351,"v":1.3},{"t":355,"v":1.2},{"t":359.3,"v":1.3}],
"q3": [{"t":0,"v":-0.2},{"t":4,"v":-0.2},{"t":7,"v":-0.1},{"t":9,"v":0.2},{"t":14,"v":0.2},{"t":19,"v":0.3},{"t":24,"v":0.2},{"t":27.5,"v":0.2},{"t":30,"v":0.7},{"t":32,"v":0.1},{"t":38,"v":0.1},{"t":44,"v":0.15},{"t":50,"v":0.1},{"t":56,"v":0.15},{"t":62,"v":0.1},{"t":69,"v":0.1},{"t":73.5,"v":0.7},{"t":76,"v":0.1},{"t":78,"v":-0.5},{"t":81,"v":-0.7},{"t":83,"v":-0.6},{"t":85,"v":-0.7},{"t":87,"v":0.3},{"t":92,"v":0.3},{"t":97,"v":0.2},{"t":102,"v":0.3},{"t":108,"v":0.3},{"t":115,"v":0.3},{"t":119,"v":0.6},{"t":124,"v":0.7},{"t":129,"v":0.8},{"t":133,"v":1.1},{"t":137,"v":1.2},{"t":141,"v":1.3},{"t":145,"v":1.3},{"t":149,"v":1.2},{"t":151.5,"v":1.0},{"t":154,"v":0.4},{"t":156,"v":0},{"t":160,"v":-0.2},{"t":165,"v":-0.3},{"t":170,"v":-0.3},{"t":174,"v":-0.2},{"t":177,"v":0.5},{"t":180,"v":0.1},{"t":184,"v":-0.2},{"t":190,"v":-0.2},{"t":197,"v":-0.2},{"t":200,"v":0.5},{"t":206,"v":0.4},{"t":212,"v":0.5},{"t":218,"v":0.5},{"t":223,"v":0.4},{"t":225,"v":-0.2},{"t":230,"v":-0.3},{"t":240,"v":-0.4},{"t":250,"v":-0.3},{"t":260,"v":-0.3},{"t":270,"v":-0.4},{"t":280,"v":-0.3},{"t":286,"v":-0.5},{"t":289,"v":-1.0},{"t":292,"v":-0.5},{"t":298,"v":-0.6},{"t":305,"v":-0.6},{"t":312,"v":-0.5},{"t":320,"v":-0.7},{"t":326,"v":-0.6},{"t":332,"v":-0.4},{"t":340,"v":-0.4},{"t":346,"v":-0.3},{"t":351,"v":0.3},{"t":354,"v":-0.1},{"t":359.3,"v":-0.2}],
"q4": [{"t":0,"v":0.1},{"t":20,"v":0.1},{"t":40,"v":0.15},{"t":60,"v":0.1},{"t":80,"v":0.1},{"t":100,"v":0.15},{"t":110,"v":0.1},{"t":112,"v":-0.5},{"t":115,"v":-0.4},{"t":119,"v":0.05},{"t":140,"v":0.05},{"t":160,"v":0.0},{"t":180,"v":0.05},{"t":200,"v":0.05},{"t":220,"v":0.0},{"t":240,"v":0.05},{"t":252,"v":0.0},{"t":256,"v":-0.3},{"t":262,"v":-0.2},{"t":268,"v":-0.4},{"t":275,"v":-0.2},{"t":282,"v":-0.35},{"t":290,"v":-0.25},{"t":298,"v":-0.4},{"t":305,"v":-0.3},{"t":312,"v":-0.4},{"t":320,"v":-0.3},{"t":330,"v":-0.4},{"t":340,"v":-0.25},{"t":350,"v":-0.35},{"t":359.3,"v":-0.3}],
"q5": [{"t":0,"v":-0.3},{"t":5,"v":-0.4},{"t":10,"v":-0.2},{"t":15,"v":-0.4},{"t":21,"v":-0.3},{"t":23,"v":0.1},{"t":25,"v":-0.6},{"t":30,"v":-0.8},{"t":35,"v":-0.6},{"t":40,"v":-0.8},{"t":45,"v":-0.6},{"t":50,"v":-0.7},{"t":55,"v":-0.9},{"t":60,"v":-0.6},{"t":65,"v":-0.7},{"t":69,"v":-0.8},{"t":73,"v":-0.5},{"t":78,"v":-0.4},{"t":82,"v":-0.6},{"t":87,"v":-0.5},{"t":92,"v":-0.5},{"t":94,"v":0.1},{"t":97,"v":-0.8},{"t":100,"v":-1.0},{"t":104,"v":-1.1},{"t":108,"v":-0.9},{"t":110,"v":-0.5},{"t":112,"v":-1.2},{"t":116,"v":-1.4},{"t":120,"v":-1.2},{"t":124,"v":-1.5},{"t":129,"v":-1.6},{"t":133,"v":-2.0},{"t":138,"v":-1.9},{"t":143,"v":-2.1},{"t":148,"v":-1.9},{"t":152,"v":-2.0},{"t":155,"v":0},{"t":158,"v":-0.4},{"t":161,"v":-0.8},{"t":165,"v":-0.6},{"t":170,"v":-0.8},{"t":174,"v":-0.7},{"t":177,"v":0},{"t":179,"v":-0.9},{"t":184,"v":-1.0},{"t":190,"v":-0.9},{"t":195,"v":-1.1},{"t":200,"v":-1.0},{"t":205,"v":-1.1},{"t":210,"v":-0.9},{"t":215,"v":-1.0},{"t":220,"v":-1.0},{"t":224,"v":0},{"t":227,"v":-0.3},{"t":230,"v":-0.5},{"t":236,"v":-0.6},{"t":242,"v":-0.4},{"t":248,"v":-0.6},{"t":254,"v":-0.5},{"t":259,"v":-0.5},{"t":260.5,"v":-0.1},{"t":262,"v":-0.3},{"t":270,"v":-0.4},{"t":278,"v":-0.2},{"t":286,"v":-0.4},{"t":294,"v":-0.3},{"t":302,"v":-0.4},{"t":310,"v":-0.2},{"t":318,"v":-0.4},{"t":326,"v":-0.3},{"t":334,"v":-0.2},{"t":342,"v":-0.4},{"t":347,"v":-0.6},{"t":351,"v":-1.3},{"t":354,"v":-0.8},{"t":356,"v":-0.3},{"t":359.3,"v":-0.5}],
"qd": [{"t":0,"v":0.5},{"t":4,"v":0.4},{"t":7,"v":0.6},{"t":9,"v":1.0},{"t":14,"v":0.9},{"t":18,"v":1.1},{"t":21,"v":1.0},{"t":23,"v":0},{"t":25,"v":1.4},{"t":30,"v":1.7},{"t":35,"v":1.5},{"t":40,"v":1.8},{"t":45,"v":1.6},{"t":50,"v":1.7},{"t":55,"v":1.9},{"t":60,"v":1.6},{"t":65,"v":1.7},{"t":69,"v":1.8},{"t":73,"v":1.5},{"t":78,"v":1.6},{"t":82,"v":1.3},{"t":87,"v":1.5},{"t":92,"v":1.4},{"t":94,"v":0.1},{"t":97,"v":2.0},{"t":101,"v":2.3},{"t":105,"v":2.2},{"t":108,"v":2.4},{"t":110,"v":1.3},{"t":112,"v":2.2},{"t":116,"v":2.4},{"t":120,"v":2.2},{"t":124,"v":2.5},{"t":129,"v":2.6},{"t":133,"v":3.0},{"t":138,"v":2.9},{"t":143,"v":3.1},{"t":148,"v":2.9},{"t":152,"v":3.0},{"t":154,"v":1.5},{"t":156,"v":0.1},{"t":160,"v":0.2},{"t":161,"v":1.0},{"t":165,"v":1.3},{"t":170,"v":1.4},{"t":174,"v":1.2},{"t":177,"v":0.7},{"t":179,"v":1.9},{"t":184,"v":2.0},{"t":190,"v":2.1},{"t":195,"v":1.9},{"t":200,"v":2.0},{"t":205,"v":2.1},{"t":210,"v":1.9},{"t":215,"v":2.0},{"t":220,"v":2.0},{"t":224,"v":0.5},{"t":227,"v":1.0},{"t":230,"v":1.3},{"t":236,"v":1.4},{"t":242,"v":1.2},{"t":248,"v":1.4},{"t":254,"v":1.3},{"t":259,"v":1.4},{"t":260.5,"v":2.3},{"t":262,"v":1.4},{"t":270,"v":1.3},{"t":278,"v":1.4},{"t":286,"v":1.2},{"t":294,"v":1.4},{"t":302,"v":1.3},{"t":310,"v":1.5},{"t":318,"v":1.3},{"t":326,"v":1.4},{"t":334,"v":1.3},{"t":342,"v":1.4},{"t":349,"v":2.0},{"t":352,"v":1.6},{"t":356,"v":0.7},{"t":359.3,"v":1.0}],
"k1": [{"t":0,"v":-0.2},{"t":20,"v":-0.3},{"t":22,"v":-0.7},{"t":25,"v":-0.3},{"t":40,"v":-0.2},{"t":55,"v":-0.3},{"t":58,"v":-0.9},{"t":66,"v":-0.8},{"t":70,"v":-0.3},{"t":78,"v":-0.4},{"t":80,"v":-1.5},{"t":82,"v":-3.0},{"t":84,"v":-2.0},{"t":86,"v":-1.2},{"t":100,"v":-1.0},{"t":120,"v":-1.2},{"t":140,"v":-1.1},{"t":158,"v":-1.3},{"t":162,"v":-2.0},{"t":166,"v":-1.5},{"t":180,"v":-1.2},{"t":200,"v":-1.0},{"t":220,"v":-1.2},{"t":234,"v":-1.3},{"t":236,"v":-3.2},{"t":240,"v":-2.0},{"t":250,"v":-0.8},{"t":270,"v":-0.9},{"t":286,"v":-1.0},{"t":290,"v":-3.0},{"t":295,"v":-1.5},{"t":300,"v":-0.6},{"t":330,"v":-0.5},{"t":359.3,"v":-0.6}],
"k2": [{"t":0,"v":0.2},{"t":20,"v":0.3},{"t":40,"v":0.2},{"t":78,"v":0.3},{"t":80,"v":1.5},{"t":82,"v":3.0},{"t":84,"v":2.0},{"t":86,"v":0.8},{"t":120,"v":0.7},{"t":158,"v":0.8},{"t":162,"v":1.5},{"t":180,"v":0.8},{"t":234,"v":0.8},{"t":236,"v":3.0},{"t":240,"v":2.0},{"t":250,"v":0.5},{"t":286,"v":0.6},{"t":290,"v":3.0},{"t":295,"v":1.0},{"t":300,"v":0.3},{"t":359.3,"v":0.3}],
"k3": [{"t":0,"v":-0.3},{"t":20,"v":-0.5},{"t":25,"v":0.3},{"t":28,"v":-0.4},{"t":45,"v":-0.5},{"t":55,"v":0.7},{"t":58,"v":-0.3},{"t":70,"v":-0.6},{"t":80,"v":-1.5},{"t":82,"v":-3.0},{"t":85,"v":-1.5},{"t":90,"v":-0.8},{"t":120,"v":-0.6},{"t":158,"v":-0.6},{"t":160,"v":-2.0},{"t":164,"v":-1.0},{"t":180,"v":-0.5},{"t":234,"v":-0.6},{"t":237,"v":-2.5},{"t":242,"v":-1.5},{"t":250,"v":-0.5},{"t":288,"v":-0.6},{"t":290,"v":-3.0},{"t":295,"v":-1.2},{"t":300,"v":-0.5},{"t":359.3,"v":-0.4}],
"k4": [{"t":0,"v":0.1},{"t":20,"v":0.3},{"t":23,"v":0.7},{"t":26,"v":0.2},{"t":45,"v":0.3},{"t":60,"v":0.8},{"t":68,"v":0.4},{"t":78,"v":0.5},{"t":82,"v":3.0},{"t":85,"v":1.5},{"t":90,"v":1.0},{"t":120,"v":0.8},{"t":158,"v":1.0},{"t":162,"v":2.0},{"t":170,"v":1.0},{"t":234,"v":1.0},{"t":237,"v":2.5},{"t":242,"v":1.5},{"t":250,"v":1.0},{"t":288,"v":1.0},{"t":290,"v":3.0},{"t":295,"v":1.5},{"t":300,"v":1.2},{"t":359.3,"v":1.2}],
"k5": [{"t":0,"v":-0.2},{"t":20,"v":-0.1},{"t":23,"v":0.7},{"t":26,"v":0},{"t":45,"v":-0.1},{"t":48,"v":0.7},{"t":52,"v":0},{"t":55,"v":1.1},{"t":58,"v":0.2},{"t":78,"v":0.2},{"t":81,"v":1.6},{"t":84,"v":0.5},{"t":100,"v":0.1},{"t":158,"v":0.3},{"t":160,"v":1.5},{"t":164,"v":0.5},{"t":234,"v":0.5},{"t":237,"v":1.5},{"t":242,"v":0.8},{"t":288,"v":0.5},{"t":290,"v":2.0},{"t":295,"v":0.8},{"t":350,"v":0.5},{"t":353,"v":1.3},{"t":356,"v":0.3},{"t":359.3,"v":0.3}],
"kd": [{"t":0,"v":0.6},{"t":20,"v":1.0},{"t":23,"v":2.0},{"t":26,"v":0.8},{"t":45,"v":1.2},{"t":55,"v":1.8},{"t":58,"v":0.6},{"t":78,"v":1.0},{"t":81,"v":3.5},{"t":84,"v":2.0},{"t":100,"v":1.2},{"t":158,"v":1.3},{"t":160,"v":3.5},{"t":164,"v":2.0},{"t":234,"v":1.5},{"t":237,"v":3.5},{"t":242,"v":2.0},{"t":288,"v":1.5},{"t":290,"v":4.0},{"t":295,"v":2.0},{"t":350,"v":1.2},{"t":353,"v":2.5},{"t":356,"v":1.0},{"t":359.3,"v":1.0}],
"epi": [{"track":"c","t0":79.2,"t1":81.7},{"track":"c","t0":81.7,"t1":84.2},{"track":"c","t0":159.5,"t1":164.9},{"track":"c","t0":164.9,"t1":172.1},{"track":"c","t0":190.2,"t1":192.6},{"track":"c","t0":192.6,"t1":194.4},{"track":"c","t0":195.8,"t1":198.2},{"track":"c","t0":234.4,"t1":237.6},{"track":"c","t0":237.6,"t1":243.4},{"track":"c","t0":288.7,"t1":291.2},{"track":"c","t0":291.2,"t1":296.3},{"track":"c","t0":339.8,"t1":340.9},
 {"track":"i0","t0":79.9,"t1":82.1},{"track":"i0","t0":82.1,"t1":84.2},{"track":"i0","t0":159.5,"t1":166.3},{"track":"i0","t0":235.4,"t1":237.6},{"track":"i0","t0":237.6,"t1":243.4},{"track":"i0","t0":290.5,"t1":294.5},
 {"track":"i1","t0":79.2,"t1":82.1},{"track":"i1","t0":82.1,"t1":84.2},{"track":"i1","t0":159.8,"t1":164.9},{"track":"i1","t0":164.9,"t1":172.1},{"track":"i1","t0":190.2,"t1":192.6},{"track":"i1","t0":192.6,"t1":194.4},{"track":"i1","t0":195.8,"t1":198.2},{"track":"i1","t0":234.4,"t1":237.6},{"track":"i1","t0":237.6,"t1":243.4},{"track":"i1","t0":288.7,"t1":296.3},{"track":"i1","t0":339.8,"t1":340.9}],
"marks": [{"track":"ax1","t":25.2},{"track":"ax1","t":31.3},{"track":"ax1","t":74.5},{"track":"ax1","t":93.1},{"track":"ax1","t":223.2},{"track":"ax1","t":260.3},{"track":"ax1","t":261.0},{"track":"ax1","t":352.3},{"track":"ab","t":20.9}]
},
"vconcat": [
{"width":998,"height":75,"resolve":{"axis":{"y":"independent"}},"layer":[
 {"data":{"values":[{}]},"mark":{"type":"rule","color":"black"},"encoding":{"y":{"datum":0,"type":"quantitative","scale":{"domain":[0,200],"nice":false,"zero":false},"axis":{"orient":"left","values":[],"labels":false,"domain":false,"grid":false,"title":["Record:","s20272"],"titleY":1,"titleLineHeight":10.5}}}},
 {"data":{"name":"hr"},"mark":{"type":"line","color":"black","strokeWidth":2},"encoding":{"x":{"field":"t","type":"quantitative","scale":{"domain":[0,359.3],"nice":false,"zero":false},"axis":{"title":null,"values":[0,30,60,90,120,150,180,210,240,270,300,330]}},"y":{"field":"v","type":"quantitative","scale":{"domain":[0,200],"nice":false,"zero":false},"axis":{"orient":"left","values":[40,80,120,160],"labelOverlap":false,"grid":true,"title":["Heart","Rate [bpm]"],"titleY":31,"titleLineHeight":10.5}}}},
 {"data":{"values":[{}]},"mark":{"type":"rule","color":"black"},"encoding":{"x":{"datum":359.3,"type":"quantitative"}}}
]},
{"width":998,"height":14,"layer":[
 {"data":{"name":"epi"},"transform":[{"filter":"datum.track=='c'"}],"mark":{"type":"rect","fill":"white","stroke":"black","strokeWidth":1},"encoding":{"x":{"field":"t0","type":"quantitative","scale":{"domain":[0,359.3],"nice":false,"zero":false},"axis":{"title":null,"values":[0,30,60,90,120,150,180,210,240,270,300,330]}},"x2":{"field":"t1"},"y":{"datum":14,"type":"quantitative","scale":{"domain":[0,14],"nice":false,"zero":false},"axis":{"values":[],"title":"Combined Epis.","titleY":-5.5}},"y2":{"datum":10}}},
 {"data":{"values":[{}]},"mark":{"type":"rule","color":"black"},"encoding":{"x":{"datum":359.3,"type":"quantitative"}}}
]},
{"width":998,"height":54,"resolve":{"axis":{"y":"independent"}},"layer":[
 {"data":{"values":[{}]},"mark":{"type":"rule","color":"black"},"encoding":{"y":{"datum":0,"type":"quantitative","scale":{"domain":[-170,370],"nice":false,"zero":false},"axis":{"orient":"left","values":[],"labels":false,"domain":false,"grid":false,"title":"[uV]","titleY":38.5}}}},
 {"data":{"name":"l0"},"mark":{"type":"line","color":"black","strokeWidth":1},"encoding":{"x":{"field":"t","type":"quantitative","scale":{"domain":[0,359.3],"nice":false,"zero":false},"axis":{"title":null,"values":[0,30,60,90,120,150,180,210,240,270,300,330]}},"y":{"field":"v","type":"quantitative","scale":{"domain":[-170,370],"nice":false,"zero":false},"axis":{"orient":"left","values":[-100,0,100,200],"labelOverlap":false,"grid":true,"title":["Lead 0:","ST Level"],"titleY":3.7,"titleLineHeight":12.3}}}},
 {"data":{"name":"r0"},"mark":{"type":"line","color":"#ff0000","strokeWidth":2,"interpolate":"step-after"},"encoding":{"x":{"field":"t","type":"quantitative"},"y":{"field":"v","type":"quantitative","scale":{"domain":[-170,370],"nice":false,"zero":false},"axis":{"orient":"left","values":[],"labels":false,"domain":false,"grid":false,"title":"ST Reference","titleColor":"#ff0000","titleY":27.6}}}},
 {"data":{"values":[{}]},"mark":{"type":"rule","color":"black"},"encoding":{"x":{"datum":359.3,"type":"quantitative"}}}
]},
{"width":998,"height":46,"resolve":{"axis":{"y":"independent"}},"layer":[
 {"data":{"values":[{}]},"mark":{"type":"rule","color":"black"},"encoding":{"y":{"datum":0,"type":"quantitative","scale":{"domain":[-290,170],"nice":false,"zero":false},"axis":null}}},
 {"data":{"name":"d0"},"mark":{"type":"line","color":"black","strokeWidth":1},"encoding":{"x":{"field":"t","type":"quantitative","scale":{"domain":[0,359.3],"nice":false,"zero":false},"axis":{"title":null,"values":[0,30,60,90,120,150,180,210,240,270,300,330]}},"y":{"field":"v","type":"quantitative","scale":{"domain":[-290,170],"nice":false,"zero":false},"axis":{"orient":"left","values":[-200,-100,0,100],"labelOverlap":false,"grid":true,"title":"ST Deviation","titleY":6.5}}}},
 {"data":{"values":[{}]},"mark":{"type":"rule","color":"black"},"encoding":{"x":{"datum":359.3,"type":"quantitative"}}}
]},
{"width":998,"height":11,"layer":[
 {"data":{"values":[{}]},"mark":{"type":"rule","color":"black"},"encoding":{"y":{"datum":11,"type":"quantitative","scale":{"domain":[0,11],"nice":false,"zero":false},"axis":{"values":[],"title":["Is/RR","Ax/CC"],"titleY":-4,"titleLineHeight":10.5}}}},
 {"data":{"name":"epi"},"transform":[{"filter":"datum.track=='i0'"}],"mark":{"type":"rect","fill":"white","stroke":"black","strokeWidth":1},"encoding":{"x":{"field":"t0","type":"quantitative","scale":{"domain":[0,359.3],"nice":false,"zero":false},"axis":{"title":null,"values":[0,30,60,90,120,150,180,210,240,270,300,330]}},"x2":{"field":"t1"},"y":{"datum":11,"type":"quantitative"},"y2":{"datum":7}}},
 {"data":{"values":[{}]},"mark":{"type":"rule","color":"black"},"encoding":{"x":{"datum":359.3,"type":"quantitative"}}}
]},
{"width":998,"height":49,"resolve":{"axis":{"y":"independent"}},"layer":[
 {"data":{"values":[{}]},"mark":{"type":"rule","color":"black"},"encoding":{"y":{"datum":350,"type":"quantitative","scale":{"domain":[-140,350],"nice":false,"zero":false},"axis":null}}},
 {"data":{"values":[{}]},"mark":{"type":"rule","color":"black"},"encoding":{"y":{"datum":0,"type":"quantitative","axis":null}}},
 {"data":{"name":"s0"},"mark":{"type":"line","color":"black","strokeWidth":1},"encoding":{"x":{"field":"t","type":"quantitative","scale":{"domain":[0,359.3],"nice":false,"zero":false},"axis":{"title":null,"values":[0,30,60,90,120,150,180,210,240,270,300,330]}},"y":{"field":"v","type":"quantitative","scale":{"domain":[-140,350],"nice":false,"zero":false},"axis":{"orient":"left","values":[0,100,200],"labelOverlap":false,"grid":true,"title":"ST Slope","titleY":26}}}},
 {"data":{"values":[{}]},"mark":{"type":"rule","color":"black"},"encoding":{"x":{"datum":359.3,"type":"quantitative"}}}
]},
{"width":998,"height":54,"resolve":{"axis":{"y":"independent"}},"layer":[
 {"data":{"values":[{}]},"mark":{"type":"rule","color":"black"},"encoding":{"y":{"datum":0,"type":"quantitative","scale":{"domain":[-170,370],"nice":false,"zero":false},"axis":{"orient":"left","values":[],"labels":false,"domain":false,"grid":false,"title":"[uV]","titleY":38.5}}}},
 {"data":{"name":"l1"},"mark":{"type":"line","color":"black","strokeWidth":1},"encoding":{"x":{"field":"t","type":"quantitative","scale":{"domain":[0,359.3],"nice":false,"zero":false},"axis":{"title":null,"values":[0,30,60,90,120,150,180,210,240,270,300,330]}},"y":{"field":"v","type":"quantitative","scale":{"domain":[-170,370],"nice":false,"zero":false},"axis":{"orient":"left","values":[-100,0,100,200],"labelOverlap":false,"grid":true,"title":["Lead 1:","ST Level"],"titleY":4.3,"titleLineHeight":12.3}}}},
 {"data":{"name":"r1"},"mark":{"type":"line","color":"#ff0000","strokeWidth":2,"interpolate":"step-after"},"encoding":{"x":{"field":"t","type":"quantitative"},"y":{"field":"v","type":"quantitative","scale":{"domain":[-170,370],"nice":false,"zero":false},"axis":{"orient":"left","values":[],"labels":false,"domain":false,"grid":false,"title":"ST Reference","titleColor":"#ff0000","titleY":27.6}}}},
 {"data":{"values":[{}]},"mark":{"type":"rule","color":"black"},"encoding":{"x":{"datum":359.3,"type":"quantitative"}}}
]},
{"width":998,"height":46,"resolve":{"axis":{"y":"independent"}},"layer":[
 {"data":{"values":[{}]},"mark":{"type":"rule","color":"black"},"encoding":{"y":{"datum":0,"type":"quantitative","scale":{"domain":[-290,170],"nice":false,"zero":false},"axis":null}}},
 {"data":{"name":"d1"},"mark":{"type":"line","color":"black","strokeWidth":1},"encoding":{"x":{"field":"t","type":"quantitative","scale":{"domain":[0,359.3],"nice":false,"zero":false},"axis":{"title":null,"values":[0,30,60,90,120,150,180,210,240,270,300,330]}},"y":{"field":"v","type":"quantitative","scale":{"domain":[-290,170],"nice":false,"zero":false},"axis":{"orient":"left","values":[-200,-100,0,100],"labelOverlap":false,"grid":true,"title":"ST Deviation","titleY":7.8}}}},
 {"data":{"values":[{}]},"mark":{"type":"rule","color":"black"},"encoding":{"x":{"datum":359.3,"type":"quantitative"}}}
]},
{"width":998,"height":11,"layer":[
 {"data":{"values":[{}]},"mark":{"type":"rule","color":"black"},"encoding":{"y":{"datum":11,"type":"quantitative","scale":{"domain":[0,11],"nice":false,"zero":false},"axis":{"values":[],"title":["Is/RR","Ax/CC"],"titleY":-4,"titleLineHeight":10.5}}}},
 {"data":{"name":"epi"},"transform":[{"filter":"datum.track=='i1'"}],"mark":{"type":"rect","fill":"white","stroke":"black","strokeWidth":1},"encoding":{"x":{"field":"t0","type":"quantitative","scale":{"domain":[0,359.3],"nice":false,"zero":false},"axis":{"title":null,"values":[0,30,60,90,120,150,180,210,240,270,300,330]}},"x2":{"field":"t1"},"y":{"datum":11,"type":"quantitative"},"y2":{"datum":7}}},
 {"data":{"values":[{}]},"mark":{"type":"rule","color":"black"},"encoding":{"x":{"datum":359.3,"type":"quantitative"}}}
]},
{"width":998,"height":48,"resolve":{"axis":{"y":"independent"}},"layer":[
 {"data":{"values":[{}]},"mark":{"type":"rule","color":"black"},"encoding":{"y":{"datum":360,"type":"quantitative","scale":{"domain":[-120,360],"nice":false,"zero":false},"axis":null}}},
 {"data":{"values":[{}]},"mark":{"type":"rule","color":"black"},"encoding":{"y":{"datum":0,"type":"quantitative","axis":null}}},
 {"data":{"name":"marks"},"transform":[{"filter":"datum.track=='ax1'"}],"mark":{"type":"rule","color":"black"},"encoding":{"x":{"field":"t","type":"quantitative"},"y":{"datum":360,"type":"quantitative","axis":null},"y2":{"datum":330}}},
 {"data":{"name":"s1"},"mark":{"type":"line","color":"black","strokeWidth":1},"encoding":{"x":{"field":"t","type":"quantitative","scale":{"domain":[0,359.3],"nice":false,"zero":false},"axis":{"title":null,"values":[0,30,60,90,120,150,180,210,240,270,300,330]}},"y":{"field":"v","type":"quantitative","scale":{"domain":[-120,360],"nice":false,"zero":false},"axis":{"orient":"left","values":[0,100,200],"labelOverlap":false,"grid":true,"title":"ST Slope","titleY":26}}}},
 {"data":{"values":[{}]},"mark":{"type":"rule","color":"black"},"encoding":{"x":{"datum":359.3,"type":"quantitative"}}}
]},
{"width":998,"height":177,"layer":[
 {"data":{"values":[{}]},"mark":{"type":"rule","color":"black"},"encoding":{"y":{"datum":0,"type":"quantitative","scale":{"domain":[0,177],"nice":false,"zero":false},"axis":{"values":[],"title":"Unread/Noise 10","titleY":167.5}}}},
 {"data":{"values":[{}]},"mark":{"type":"rule","color":"black"},"encoding":{"x":{"datum":359.3,"type":"quantitative","scale":{"domain":[0,359.3],"nice":false,"zero":false},"axis":{"title":null,"values":[0,30,60,90,120,150,180,210,240,270,300,330]}}}}
]},
{"width":998,"height":15,"layer":[
 {"data":{"values":[{}]},"mark":{"type":"rule","color":"black"},"encoding":{"y":{"datum":0,"type":"quantitative","scale":{"domain":[0,15],"nice":false,"zero":false},"axis":{"values":[],"title":"Unread/Noise 11","titleY":5.5}}}},
 {"data":{"values":[{}]},"mark":{"type":"rule","color":"black"},"encoding":{"x":{"datum":359.3,"type":"quantitative","scale":{"domain":[0,359.3],"nice":false,"zero":false},"axis":{"title":null,"values":[0,30,60,90,120,150,180,210,240,270,300,330]}}}}
]},
{"width":998,"height":40,"layer":[
 {"data":{"values":[{}]},"mark":{"type":"rule","color":"black"},"encoding":{"y":{"datum":0,"type":"quantitative","scale":{"domain":[-10,30],"nice":false,"zero":false},"axis":{"values":[],"title":"Abnormal Beats","titleY":21}}}},
 {"data":{"name":"marks"},"transform":[{"filter":"datum.track=='ab'"}],"mark":{"type":"rule","color":"black"},"encoding":{"x":{"field":"t","type":"quantitative"},"y":{"datum":0,"type":"quantitative"},"y2":{"datum":3}}},
 {"data":{"values":[{}]},"mark":{"type":"rule","color":"black"},"encoding":{"x":{"datum":359.3,"type":"quantitative","scale":{"domain":[0,359.3],"nice":false,"zero":false},"axis":{"title":null,"values":[0,30,60,90,120,150,180,210,240,270,300,330]}}}}
]},
{"width":998,"height":25,"resolve":{"axis":{"y":"independent"}},"layer":[
 {"data":{"values":[{}]},"mark":{"type":"rule","color":"black"},"encoding":{"y":{"datum":0,"type":"quantitative","scale":{"domain":[0,5],"nice":false,"zero":false},"axis":null}}},
 {"data":{"name":"q1"},"mark":{"type":"line","color":"black","strokeWidth":1.5},"encoding":{"x":{"field":"t","type":"quantitative","scale":{"domain":[0,359.3],"nice":false,"zero":false},"axis":{"title":null,"values":[0,30,60,90,120,150,180,210,240,270,300,330]}},"y":{"field":"v","type":"quantitative","scale":{"domain":[0,5],"nice":false,"zero":false},"axis":{"orient":"left","values":[0,2],"labelOverlap":false,"grid":true,"gridDash":[1,2],"title":"QRS KL1 [std]","titleY":12.8}}}},
 {"data":{"values":[{}]},"mark":{"type":"rule","color":"black"},"encoding":{"x":{"datum":359.3,"type":"quantitative"}}}
]},
{"width":998,"height":25,"resolve":{"axis":{"y":"independent"}},"layer":[
 {"data":{"values":[{}]},"mark":{"type":"rule","color":"black"},"encoding":{"y":{"datum":0,"type":"quantitative","scale":{"domain":[0,5],"nice":false,"zero":false},"axis":null}}},
 {"data":{"name":"q2"},"mark":{"type":"line","color":"black","strokeWidth":1},"encoding":{"x":{"field":"t","type":"quantitative","scale":{"domain":[0,359.3],"nice":false,"zero":false},"axis":{"title":null,"values":[0,30,60,90,120,150,180,210,240,270,300,330]}},"y":{"field":"v","type":"quantitative","scale":{"domain":[0,5],"nice":false,"zero":false},"axis":{"orient":"left","values":[0,2],"labelOverlap":false,"grid":true,"gridDash":[1,2],"title":"QRS KL2","titleY":16.8}}}},
 {"data":{"values":[{}]},"mark":{"type":"rule","color":"black"},"encoding":{"x":{"datum":359.3,"type":"quantitative"}}}
]},
{"width":998,"height":25,"resolve":{"axis":{"y":"independent"}},"layer":[
 {"data":{"values":[{}]},"mark":{"type":"rule","color":"black"},"encoding":{"y":{"datum":0,"type":"quantitative","scale":{"domain":[0,5],"nice":false,"zero":false},"axis":null}}},
 {"data":{"name":"q3"},"mark":{"type":"line","color":"black","strokeWidth":1},"encoding":{"x":{"field":"t","type":"quantitative","scale":{"domain":[0,359.3],"nice":false,"zero":false},"axis":{"title":null,"values":[0,30,60,90,120,150,180,210,240,270,300,330]}},"y":{"field":"v","type":"quantitative","scale":{"domain":[0,5],"nice":false,"zero":false},"axis":{"orient":"left","values":[0,2],"labelOverlap":false,"grid":true,"gridDash":[1,2],"title":"QRS KL3","titleY":16.8}}}},
 {"data":{"values":[{}]},"mark":{"type":"rule","color":"black"},"encoding":{"x":{"datum":359.3,"type":"quantitative"}}}
]},
{"width":998,"height":25,"resolve":{"axis":{"y":"independent"}},"layer":[
 {"data":{"values":[{}]},"mark":{"type":"rule","color":"black"},"encoding":{"y":{"datum":0,"type":"quantitative","scale":{"domain":[0,5],"nice":false,"zero":false},"axis":null}}},
 {"data":{"name":"q4"},"mark":{"type":"line","color":"black","strokeWidth":1.3},"encoding":{"x":{"field":"t","type":"quantitative","scale":{"domain":[0,359.3],"nice":false,"zero":false},"axis":{"title":null,"values":[0,30,60,90,120,150,180,210,240,270,300,330]}},"y":{"field":"v","type":"quantitative","scale":{"domain":[0,5],"nice":false,"zero":false},"axis":{"orient":"left","values":[0,2],"labelOverlap":false,"grid":true,"gridDash":[1,2],"title":"QRS KL4","titleY":16.8}}}},
 {"data":{"values":[{}]},"mark":{"type":"rule","color":"black"},"encoding":{"x":{"datum":359.3,"type":"quantitative"}}}
]},
{"width":998,"height":25,"resolve":{"axis":{"y":"independent"}},"layer":[
 {"data":{"values":[{}]},"mark":{"type":"rule","color":"black"},"encoding":{"y":{"datum":0,"type":"quantitative","scale":{"domain":[0,5],"nice":false,"zero":false},"axis":null}}},
 {"data":{"name":"q5"},"mark":{"type":"line","color":"black","strokeWidth":1},"encoding":{"x":{"field":"t","type":"quantitative","scale":{"domain":[0,359.3],"nice":false,"zero":false},"axis":{"title":null,"values":[0,30,60,90,120,150,180,210,240,270,300,330]}},"y":{"field":"v","type":"quantitative","scale":{"domain":[0,5],"nice":false,"zero":false},"axis":{"orient":"left","values":[0,2],"labelOverlap":false,"grid":true,"gridDash":[1,2],"title":"QRS KL5","titleY":16.8}}}},
 {"data":{"values":[{}]},"mark":{"type":"rule","color":"black"},"encoding":{"x":{"datum":359.3,"type":"quantitative"}}}
]},
{"width":998,"height":25,"resolve":{"axis":{"y":"independent"}},"layer":[
 {"data":{"values":[{}]},"mark":{"type":"rule","color":"black"},"encoding":{"y":{"datum":0,"type":"quantitative","scale":{"domain":[0,5],"nice":false,"zero":false},"axis":null}}},
 {"data":{"name":"qd"},"mark":{"type":"line","color":"black","strokeWidth":1},"encoding":{"x":{"field":"t","type":"quantitative","scale":{"domain":[0,359.3],"nice":false,"zero":false},"axis":{"title":null,"values":[0,30,60,90,120,150,180,210,240,270,300,330]}},"y":{"field":"v","type":"quantitative","scale":{"domain":[0,5],"nice":false,"zero":false},"axis":{"orient":"left","values":[0,2],"labelOverlap":false,"grid":true,"gridDash":[1,2],"title":"QRS Distance","titleY":16.8}}}},
 {"data":{"values":[{}]},"mark":{"type":"rule","color":"black"},"encoding":{"x":{"datum":359.3,"type":"quantitative"}}}
]},
{"width":998,"height":25,"resolve":{"axis":{"y":"independent"}},"layer":[
 {"data":{"values":[{}]},"mark":{"type":"rule","color":"black"},"encoding":{"y":{"datum":0,"type":"quantitative","scale":{"domain":[0,5],"nice":false,"zero":false},"axis":null}}},
 {"data":{"name":"k1"},"mark":{"type":"line","color":"black","strokeWidth":1},"encoding":{"x":{"field":"t","type":"quantitative","scale":{"domain":[0,359.3],"nice":false,"zero":false},"axis":{"title":null,"values":[0,30,60,90,120,150,180,210,240,270,300,330]}},"y":{"field":"v","type":"quantitative","scale":{"domain":[0,5],"nice":false,"zero":false},"axis":{"orient":"left","values":[0,2],"labelOverlap":false,"grid":true,"gridDash":[1,2],"title":"ST KL1 [std]","titleY":16.8}}}},
 {"data":{"values":[{}]},"mark":{"type":"rule","color":"black"},"encoding":{"x":{"datum":359.3,"type":"quantitative"}}}
]},
{"width":998,"height":25,"resolve":{"axis":{"y":"independent"}},"layer":[
 {"data":{"values":[{}]},"mark":{"type":"rule","color":"black"},"encoding":{"y":{"datum":0,"type":"quantitative","scale":{"domain":[0,5],"nice":false,"zero":false},"axis":null}}},
 {"data":{"name":"k2"},"mark":{"type":"line","color":"black","strokeWidth":1},"encoding":{"x":{"field":"t","type":"quantitative","scale":{"domain":[0,359.3],"nice":false,"zero":false},"axis":{"title":null,"values":[0,30,60,90,120,150,180,210,240,270,300,330]}},"y":{"field":"v","type":"quantitative","scale":{"domain":[0,5],"nice":false,"zero":false},"axis":{"orient":"left","values":[0,2],"labelOverlap":false,"grid":true,"gridDash":[1,2],"title":"ST KL2","titleY":16.8}}}},
 {"data":{"values":[{}]},"mark":{"type":"rule","color":"black"},"encoding":{"x":{"datum":359.3,"type":"quantitative"}}}
]},
{"width":998,"height":25,"resolve":{"axis":{"y":"independent"}},"layer":[
 {"data":{"values":[{}]},"mark":{"type":"rule","color":"black"},"encoding":{"y":{"datum":0,"type":"quantitative","scale":{"domain":[0,5],"nice":false,"zero":false},"axis":null}}},
 {"data":{"name":"k3"},"mark":{"type":"line","color":"black","strokeWidth":1},"encoding":{"x":{"field":"t","type":"quantitative","scale":{"domain":[0,359.3],"nice":false,"zero":false},"axis":{"title":null,"values":[0,30,60,90,120,150,180,210,240,270,300,330]}},"y":{"field":"v","type":"quantitative","scale":{"domain":[0,5],"nice":false,"zero":false},"axis":{"orient":"left","values":[0,2],"labelOverlap":false,"grid":true,"gridDash":[1,2],"title":"ST KL3","titleY":16.8}}}},
 {"data":{"values":[{}]},"mark":{"type":"rule","color":"black"},"encoding":{"x":{"datum":359.3,"type":"quantitative"}}}
]},
{"width":998,"height":25,"resolve":{"axis":{"y":"independent"}},"layer":[
 {"data":{"values":[{}]},"mark":{"type":"rule","color":"black"},"encoding":{"y":{"datum":0,"type":"quantitative","scale":{"domain":[0,5],"nice":false,"zero":false},"axis":null}}},
 {"data":{"name":"k4"},"mark":{"type":"line","color":"black","strokeWidth":1},"encoding":{"x":{"field":"t","type":"quantitative","scale":{"domain":[0,359.3],"nice":false,"zero":false},"axis":{"title":null,"values":[0,30,60,90,120,150,180,210,240,270,300,330]}},"y":{"field":"v","type":"quantitative","scale":{"domain":[0,5],"nice":false,"zero":false},"axis":{"orient":"left","values":[0,2],"labelOverlap":false,"grid":true,"gridDash":[1,2],"title":"ST KL4","titleY":16.8}}}},
 {"data":{"values":[{}]},"mark":{"type":"rule","color":"black"},"encoding":{"x":{"datum":359.3,"type":"quantitative"}}}
]},
{"width":998,"height":25,"resolve":{"axis":{"y":"independent"}},"layer":[
 {"data":{"values":[{}]},"mark":{"type":"rule","color":"black"},"encoding":{"y":{"datum":0,"type":"quantitative","scale":{"domain":[0,5],"nice":false,"zero":false},"axis":null}}},
 {"data":{"name":"k5"},"mark":{"type":"line","color":"black","strokeWidth":1},"encoding":{"x":{"field":"t","type":"quantitative","scale":{"domain":[0,359.3],"nice":false,"zero":false},"axis":{"title":null,"values":[0,30,60,90,120,150,180,210,240,270,300,330]}},"y":{"field":"v","type":"quantitative","scale":{"domain":[0,5],"nice":false,"zero":false},"axis":{"orient":"left","values":[0,2],"labelOverlap":false,"grid":true,"gridDash":[1,2],"title":"ST KL5","titleY":16.8}}}},
 {"data":{"values":[{}]},"mark":{"type":"rule","color":"black"},"encoding":{"x":{"datum":359.3,"type":"quantitative"}}}
]},
{"width":998,"height":25,"resolve":{"axis":{"y":"independent"}},"layer":[
 {"data":{"values":[{}]},"mark":{"type":"rule","color":"black"},"encoding":{"y":{"datum":0,"type":"quantitative","scale":{"domain":[0,5],"nice":false,"zero":false},"axis":null}}},
 {"data":{"name":"kd"},"mark":{"type":"line","color":"black","strokeWidth":1},"encoding":{"x":{"field":"t","type":"quantitative","scale":{"domain":[0,359.3],"nice":false,"zero":false},"axis":{"title":["Time","[hh:mm:ss]"],"values":[0,30,60,90,120,150,180,210,240,270,300,330],"labels":true,"ticks":true,"tickSize":12,"tickDash":[1,3],"labelAlign":"left","labelPadding":6,"labelFlush":false,"labelOverlap":false,"labelExpr":"datum.value < 60 ? datum.value + ':00' : floor(datum.value / 60) + ':' + (datum.value % 60 == 0 ? '00' : '' + (datum.value % 60)) + ':00'","titleX":-97,"titleY":8.5,"titleAlign":"left","titleAnchor":"start","titleBaseline":"top","titleLineHeight":10.5,"titleAngle":0}},"y":{"field":"v","type":"quantitative","scale":{"domain":[0,5],"nice":false,"zero":false},"axis":{"orient":"left","values":[0,2],"labelOverlap":false,"grid":true,"gridDash":[1,2],"title":"ST Distance","titleY":16.8}}}},
 {"data":{"values":[{}]},"mark":{"type":"rule","color":"black"},"encoding":{"x":{"datum":359.3,"type":"quantitative"}}}
]}
]
}
